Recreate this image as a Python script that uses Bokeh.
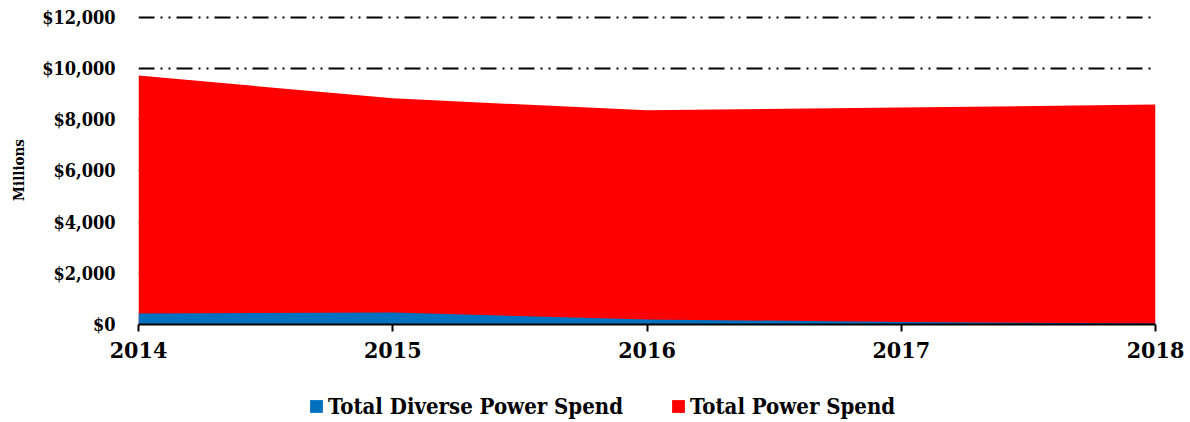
from bokeh.plotting import figure
from bokeh.layouts import column
from bokeh.models import Range1d, FixedTicker, NumeralTickFormatter, Legend, LegendItem
from bokeh.embed import file_html
from bokeh.resources import INLINE

years = [2014, 2015, 2016, 2017, 2018]
total_power = [9730, 8840, 8370, 8480, 8600]
diverse_power = [430, 470, 195, 100, 40]
y_ticks = [0, 2000, 4000, 6000, 8000, 10000, 12000]
series_names = ["Total Diverse Power Spend", "Total Power Spend"]
series_colors = ["#0070C0", "#FF0000"]

FONT = "DejaVu Serif Condensed"

p = figure(width=1188, height=362, output_backend="svg", toolbar_location=None,
           x_range=Range1d(2014, 2018), y_range=Range1d(0, 12078),
           min_border_left=138, min_border_right=33, min_border_top=15, min_border_bottom=38)
p.outline_line_color = None

p.varea(x=years, y1=[0] * len(years), y2=total_power, fill_color=series_colors[1])
p.varea(x=years, y1=[0] * len(years), y2=diverse_power, fill_color=series_colors[0])

p.xgrid.grid_line_color = None
p.ygrid.grid_line_color = "black"
p.ygrid.grid_line_width = 2
p.ygrid.grid_line_dash = "16 6 2 6 2 6"
p.ygrid.ticker = FixedTicker(ticks=y_ticks)

p.yaxis.ticker = FixedTicker(ticks=y_ticks)
p.yaxis.formatter = NumeralTickFormatter(format="$0,0")
p.yaxis.axis_line_color = None
p.yaxis.major_tick_line_color = None
p.yaxis.minor_tick_line_color = None
p.yaxis.major_label_text_font = FONT
p.yaxis.major_label_text_font_style = "bold"
p.yaxis.major_label_text_font_size = "18px"
p.yaxis.major_label_text_color = "black"
p.yaxis.major_label_standoff = 17
p.yaxis.axis_label = "Millions"
p.yaxis.axis_label_text_font = FONT
p.yaxis.axis_label_text_font_style = "bold"
p.yaxis.axis_label_text_font_size = "15px"
p.yaxis.axis_label_text_color = "black"
p.yaxis.axis_label_standoff = 11

p.xaxis.ticker = FixedTicker(ticks=years)
p.xaxis.axis_line_color = "black"
p.xaxis.axis_line_width = 2
p.xaxis.major_tick_line_color = "black"
p.xaxis.major_tick_line_width = 2
p.xaxis.major_tick_out = 7
p.xaxis.major_tick_in = 0
p.xaxis.minor_tick_line_color = None
p.xaxis.major_label_text_font = FONT
p.xaxis.major_label_text_font_style = "bold"
p.xaxis.major_label_text_font_size = "23px"
p.xaxis.major_label_text_color = "black"
p.xaxis.major_label_standoff = 10

# legend row (its frame is aligned with the chart frame by the column layout)
lg = figure(width=1188, height=58, output_backend="svg", toolbar_location=None,
            x_range=Range1d(0, 1), y_range=Range1d(0, 1),
            min_border=0, x_axis_location=None, y_axis_location=None)
lg.outline_line_color = None
lg.xgrid.grid_line_color = None
lg.ygrid.grid_line_color = None
items = []
for name, col in zip(series_names, series_colors):
    r = lg.varea(x=[2, 3], y1=[2, 2], y2=[3, 3], fill_color=col)
    items.append(LegendItem(label=name, renderers=[r]))

legend = Legend(items=items, orientation="horizontal", location=(170, 1),
                label_text_font=FONT, label_text_font_style="bold",
                label_text_font_size="22px", label_text_color="black",
                glyph_width=16, glyph_height=16,
                spacing=47, label_standoff=4, border_line_color=None,
                background_fill_alpha=0, margin=0, padding=4)
lg.add_layout(legend, "center")

layout = column(p, lg, spacing=0)
open("out.html", "w").write(file_html(layout, INLINE))
